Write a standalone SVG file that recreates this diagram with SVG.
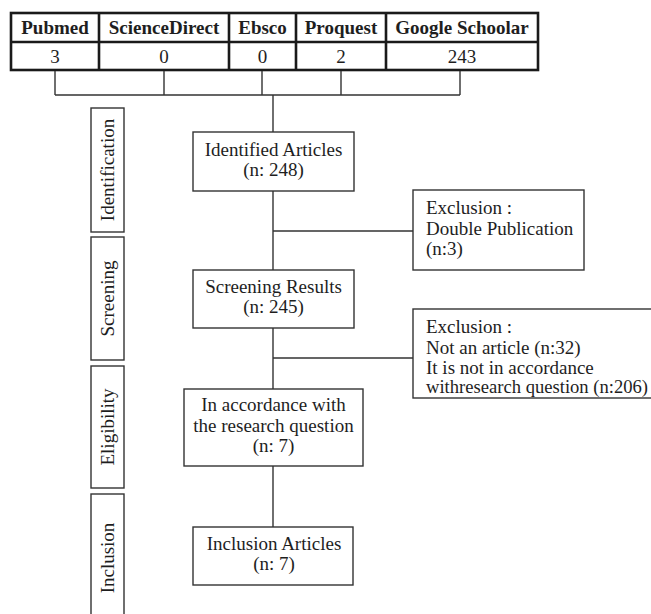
<svg xmlns="http://www.w3.org/2000/svg" width="651" height="614" viewBox="0 0 651 614">
<style>
text{font-family:"Liberation Serif","Times New Roman",serif;font-size:19px;fill:#1e1e1e}
.h{font-weight:bold}
.c{text-anchor:middle}
.tbl{fill:none;stroke:#1a1a1a;stroke-width:2.6}
.box{fill:#fff;stroke:#333;stroke-width:1.4}
.ln{fill:none;stroke:#333;stroke-width:1.4}
</style>
<rect width="651" height="614" fill="#fff"/>
<g id="sources">
<rect class="tbl" x="11" y="13" width="527" height="57"/>
<path class="tbl" d="M11 42H538M99 13V70M229 13V70M296 13V70M386 13V70"/>
<text class="h c" x="55" y="34">Pubmed</text>
<text class="h c" x="164" y="34">ScienceDirect</text>
<text class="h c" x="262.5" y="34">Ebsco</text>
<text class="h c" x="341" y="34">Proquest</text>
<text class="h c" x="462" y="34">Google Schoolar</text>
<text class="c" x="55" y="63">3</text>
<text class="c" x="164" y="63">0</text>
<text class="c" x="262.5" y="63">0</text>
<text class="c" x="341" y="63">2</text>
<text class="c" x="462" y="63">243</text>
</g>
<g id="connectors">
<path class="ln" d="M55 71V95M164 71V95M262 71V95M341 71V95M460 71V95M55 95H460"/>
<path class="ln" d="M273 95V527"/>
<path class="ln" d="M273 231H413M273 358H413"/>
</g>
<g id="phase-identification">
<rect class="box" x="91" y="108" width="33" height="124"/>
<text class="c" transform="translate(114 170) rotate(-90)">Identification</text>
</g>
<g id="phase-screening">
<rect class="box" x="91" y="237" width="33" height="123"/>
<text class="c" transform="translate(114 298.5) rotate(-90)">Screening</text>
</g>
<g id="phase-eligibility">
<rect class="box" x="91" y="366" width="33" height="122"/>
<text class="c" transform="translate(114 427) rotate(-90)">Eligibility</text>
</g>
<g id="phase-inclusion">
<rect class="box" x="91" y="494" width="33" height="130"/>
<text class="c" transform="translate(114 558) rotate(-90)">Inclusion</text>
</g>
<g id="identified">
<rect class="box" x="193" y="132" width="161" height="59"/>
<text class="c" x="273.5" y="156">Identified Articles</text>
<text class="c" x="273.5" y="176">(n: 248)</text>
</g>
<g id="exclusion1">
<rect class="box" x="413" y="190" width="171" height="80"/>
<text x="426" y="214">Exclusion :</text>
<text x="426" y="235">Double Publication</text>
<text x="426" y="255">(n:3)</text>
</g>
<g id="screening">
<rect class="box" x="193" y="270" width="161" height="58"/>
<text class="c" x="273.5" y="293">Screening Results</text>
<text class="c" x="273.5" y="313">(n: 245)</text>
</g>
<g id="exclusion2">
<rect class="box" x="413" y="309" width="250" height="89"/>
<text x="426" y="333">Exclusion :</text>
<text x="426" y="354">Not an article (n:32)</text>
<text x="426" y="374">It is not in accordance</text>
<text x="426" y="393" style="font-size:18.6px">withresearch question (n:206)</text>
</g>
<g id="eligibility">
<rect class="box" x="184" y="389" width="179" height="77"/>
<text class="c" x="273.5" y="411">In accordance with</text>
<text class="c" x="273.5" y="432">the research question</text>
<text class="c" x="273.5" y="452">(n: 7)</text>
</g>
<g id="inclusion">
<rect class="box" x="193" y="527" width="160" height="58"/>
<text class="c" x="274" y="550">Inclusion Articles</text>
<text class="c" x="274" y="570">(n: 7)</text>
</g>
</svg>
